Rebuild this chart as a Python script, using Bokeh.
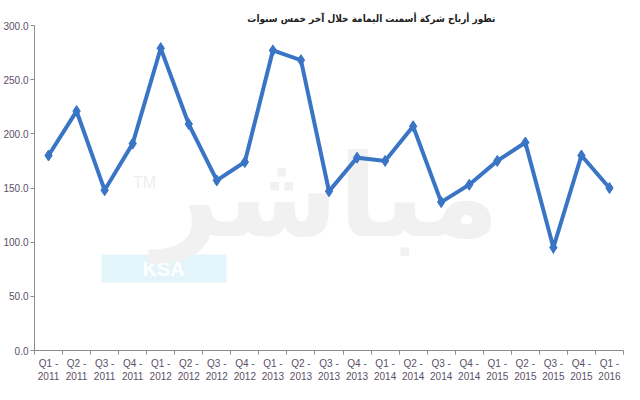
from bokeh.plotting import figure
from bokeh.models import (Range1d, FixedTicker, NumeralTickFormatter, Label,
                          BoxAnnotation, ColumnDataSource)
from bokeh.embed import file_html
from bokeh.resources import INLINE

# ---- data ----
quarters = ["Q1 -\n2011", "Q2 -\n2011", "Q3 -\n2011", "Q4 -\n2011",
            "Q1 -\n2012", "Q2 -\n2012", "Q3 -\n2012", "Q4 -\n2012",
            "Q1 -\n2013", "Q2 -\n2013", "Q3 -\n2013", "Q4 -\n2013",
            "Q1 -\n2014", "Q2 -\n2014", "Q3 -\n2014", "Q4 -\n2014",
            "Q1 -\n2015", "Q2 -\n2015", "Q3 -\n2015", "Q4 -\n2015",
            "Q1 -\n2016"]
profits = [180, 221, 148, 191, 279, 209, 157, 174, 277, 268, 147, 178,
           175, 207, 137, 153, 175, 192, 95, 180, 150]
y_ticks = [0, 50, 100, 150, 200, 250, 300]
title_text = "تطور أرباح شركة أسمنت اليمامة خلال آخر خمس سنوات"

n = len(quarters)
xs = [i + 0.5 for i in range(n)]
src = ColumnDataSource(dict(x=xs, y=profits, q=quarters))

p = figure(width=624, height=384, output_backend="svg", toolbar_location=None,
           x_range=Range1d(0, n), y_range=Range1d(0, 300),
           min_border_left=33, min_border_right=1, min_border_top=25,
           min_border_bottom=26)
p.outline_line_color = None
p.xgrid.visible = False
p.ygrid.visible = False
p.background_fill_color = "white"
p.border_fill_color = "white"

# title
p.title.text = title_text
p.title.align = "right"
p.title.offset = 128
p.title.text_font = "DejaVu Sans Condensed, DejaVu Sans"
p.title.text_font_style = "bold"
p.title.text_font_size = "10px"
p.title.text_color = "#222222"
p.title.standoff = 3

# watermark (positions relative to the plot frame)
p.add_layout(BoxAnnotation(left=67, right=192, bottom=68, top=96,
                           left_units="screen", right_units="screen",
                           bottom_units="screen", top_units="screen",
                           fill_color="#e3f5fb", fill_alpha=1, line_color=None,
                           level="underlay"))
p.add_layout(Label(x=129, y=82, x_units="screen", y_units="screen", text="KSA",
                   text_align="center", text_baseline="middle",
                   text_font="Liberation Sans", text_font_style="bold",
                   text_font_size="20px", text_color="white", level="underlay"))
p.add_layout(Label(x=110, y=168, x_units="screen", y_units="screen", text="TM",
                   text_align="center", text_baseline="middle",
                   text_font="Liberation Sans", text_font_size="16px",
                   text_color="#eeeeee", level="underlay"))
p.add_layout(Label(x=292, y=155, x_units="screen", y_units="screen", text="مباشر",
                   text_align="center", text_baseline="middle",
                   text_font="DejaVu Sans", text_font_style="bold",
                   text_font_size="115px", text_color="#f1f1f1", level="underlay"))

p.line("x", "y", source=src, line_color="#3A75C5", line_width=4,
       line_join="miter")
p.scatter("x", "y", source=src, marker="diamond", size=11,
          fill_color="#3A75C5", line_color="#3A75C5")

# axes
ya = p.yaxis[0]
ya.ticker = FixedTicker(ticks=y_ticks)
ya.formatter = NumeralTickFormatter(format="0.0")
ya.axis_line_color = "#8c8c8c"
ya.major_tick_line_color = "#8c8c8c"
ya.major_tick_out = 4
ya.major_tick_in = 0
ya.minor_tick_line_color = None
ya.major_label_standoff = 2
ya.major_label_text_font = "Liberation Sans"
ya.major_label_text_font_size = "10px"
ya.major_label_text_color = "#5a5068"

xa = p.xaxis[0]
xa.ticker = FixedTicker(ticks=xs, minor_ticks=list(range(n + 1)))
xa.major_label_overrides = {x: q for x, q in zip(xs, quarters)}
xa.axis_line_color = "#8c8c8c"
xa.major_tick_line_color = None
xa.major_tick_out = 4
xa.minor_tick_line_color = "#8c8c8c"
xa.minor_tick_out = 4
xa.minor_tick_in = 0
xa.major_label_standoff = 3
xa.major_label_text_font = "Liberation Sans"
xa.major_label_text_font_size = "10px"
xa.major_label_text_color = "#5a5068"
xa.major_label_text_line_height = 1.2

open("out.html", "w").write(file_html(p, INLINE))
